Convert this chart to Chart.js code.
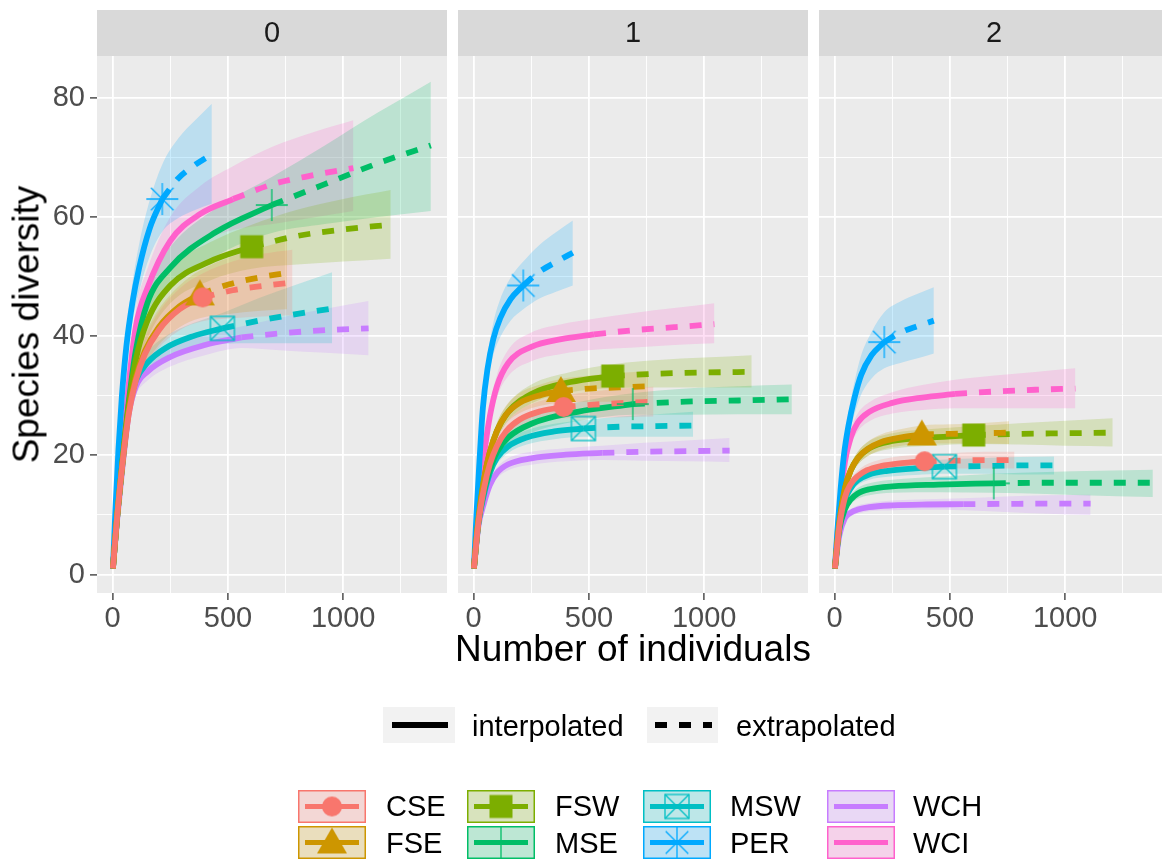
<!DOCTYPE html>
<html>
<head>
<meta charset="utf-8">
<script src="https://cdn.jsdelivr.net/npm/chart.js@4.4.1/dist/chart.umd.min.js"></script>
<style>
  html, body { margin: 0; padding: 0; background: #ffffff; }
  body { width: 1162px; height: 861px; overflow: hidden; position: relative; font-family: "Liberation Sans", Arial, sans-serif; }
  canvas { position: absolute; }
  .txt { position: absolute; white-space: nowrap; color: #000000; }
  .axis-title { font-size: 37px; line-height: 37px; text-align: center; }
  .key-label { font-size: 29px; line-height: 29px; }
</style>
</head>
<body>
<canvas id="panel0" width="447" height="628" style="left:0px;top:10px"></canvas>
<canvas id="panel1" width="350" height="628" style="left:458px;top:10px"></canvas>
<canvas id="panel2" width="350" height="628" style="left:819px;top:10px"></canvas>
<canvas id="legendKeys" width="1162" height="171" style="left:0px;top:690px"></canvas>

<div class="txt axis-title" style="left:-174px;top:305.5px;width:400px;transform:rotate(-90deg);">Species diversity</div>
<div class="txt axis-title" style="left:333px;top:630px;width:600px;">Number of individuals</div>

<div class="txt key-label" style="left:472px;top:711.5px;">interpolated</div>
<div class="txt key-label" style="left:736px;top:711.5px;">extrapolated</div>

<div class="txt key-label" style="left:386px;top:792px;">CSE</div>
<div class="txt key-label" style="left:386px;top:828.5px;">FSE</div>
<div class="txt key-label" style="left:555px;top:792px;">FSW</div>
<div class="txt key-label" style="left:555px;top:828.5px;">MSE</div>
<div class="txt key-label" style="left:730px;top:792px;">MSW</div>
<div class="txt key-label" style="left:730px;top:828.5px;">PER</div>
<div class="txt key-label" style="left:913px;top:792px;">WCH</div>
<div class="txt key-label" style="left:913px;top:828.5px;">WCI</div>

<script>
// ---- data ----
const sites = ['CSE', 'FSE', 'FSW', 'MSE', 'MSW', 'PER', 'WCH', 'WCI'];
const orders = ['0', '1', '2'];
const observedSize = [390, 378, 603, 690, 476, 215, 558, 522];

// sample sizes (m) at which each curve was read, per site
const sampleSizes = [
  [1, 20, 45, 70, 100, 140, 200, 290, 390, 520, 650, 780],
  [1, 20, 45, 70, 100, 140, 200, 290, 378, 505, 630, 756],
  [1, 20, 45, 70, 100, 150, 250, 420, 603, 800, 1000, 1206],
  [1, 20, 45, 70, 100, 150, 250, 450, 690, 920, 1150, 1380],
  [1, 20, 45, 70, 100, 150, 230, 350, 476, 635, 795, 952],
  [1, 12, 25, 40, 60, 85, 115, 160, 215, 285, 360, 430],
  [1, 20, 45, 70, 100, 150, 250, 400, 558, 740, 925, 1110],
  [1, 20, 45, 70, 100, 150, 250, 380, 522, 695, 870, 1044]
];

// order q = 0
const richness = [
  [1, 10, 19.5, 27, 32.5, 37, 41, 44.5, 46.5, 47.7, 48.4, 49],
  [1, 10, 19.5, 27.5, 33, 37.5, 41.5, 45, 47, 48.7, 49.8, 50.6],
  [1, 10, 20, 28.5, 36, 42.5, 48.5, 52.5, 55, 56.8, 57.9, 58.7],
  [1, 10, 20, 29, 37.5, 45.5, 51.5, 57.5, 62, 65.5, 69, 72],
  [1, 10, 19.5, 28, 32.5, 35.5, 38, 40, 41.3, 42.6, 43.7, 44.6],
  [1, 11, 21, 30, 38.5, 45.5, 51.5, 58, 63, 66.5, 68.8, 70.5],
  [1, 9.5, 19, 27, 31.5, 34, 36.5, 38.5, 39.8, 40.5, 41, 41.3],
  [1, 10.5, 21, 32, 41.5, 48, 56, 60.5, 63, 65.5, 67, 68.2]
];
const richnessLow = [
  [1, 9.3, 18, 25, 30, 34.3, 38, 41, 42.5, 43, 43.3, 43.5],
  [1, 9.3, 18, 25.5, 30.5, 34.8, 38.5, 41.5, 43, 43.7, 44.2, 44.5],
  [1, 9.3, 18.5, 26.5, 33.5, 39.5, 45.5, 49.3, 51.3, 52, 52.5, 53],
  [1, 9.3, 18.5, 27, 35, 42.5, 48, 53.5, 57.3, 58.8, 60, 61],
  [1, 9.3, 18.3, 26.5, 30.8, 33.7, 36, 37.8, 38.7, 38.8, 38.8, 38.8],
  [1, 10.3, 19.5, 28, 35.8, 42.2, 47.5, 53.3, 57.5, 59.8, 61.2, 62.2],
  [1, 8.8, 17.8, 25.6, 30, 32.5, 34.9, 36.8, 38, 37.6, 37.2, 36.8],
  [1, 9.8, 19.5, 30, 38.8, 44.8, 52, 55.8, 57.8, 58.8, 59.9, 61]
];
const richnessHigh = [
  [1, 10.7, 21, 29, 35, 39.7, 44, 48, 50.5, 52.5, 53.8, 54.5],
  [1, 10.7, 21, 29.5, 35.5, 40.2, 44.5, 48.5, 51, 53.2, 54.7, 56],
  [1, 10.7, 21.5, 30.5, 38.5, 45.5, 51.5, 55.7, 58.7, 61.2, 63, 64.5],
  [1, 10.7, 21.5, 31, 40, 48.5, 55, 61.5, 66.7, 72, 77.5, 82.7],
  [1, 10.7, 20.7, 29.5, 34.2, 37.3, 40, 42.2, 43.9, 46.4, 48.6, 50.7],
  [1, 11.7, 22.5, 32, 41.2, 48.8, 55.5, 62.7, 68.8, 73.2, 76.3, 79],
  [1, 10.2, 20.2, 28.4, 33, 35.5, 38.1, 40.2, 41.6, 43.2, 44.6, 45.9],
  [1, 11.2, 22.5, 34, 44.2, 51.2, 60, 65.2, 68.5, 71.8, 74.2, 76.2]
];

// order q = 1
const shannon = [
  [1, 8.5, 14.5, 18.5, 21.5, 24, 26, 27.4, 28.1, 28.5, 28.8, 29],
  [1, 9, 16, 20.5, 24, 26.8, 28.8, 30.1, 30.8, 31.2, 31.4, 31.6],
  [1, 9, 16, 20.5, 24, 27.3, 30.3, 32.3, 33.3, 33.7, 33.9, 34],
  [1, 8.5, 14, 17.5, 20.5, 23, 25.3, 27.3, 28.6, 29, 29.2, 29.4],
  [1, 8.5, 13.5, 17, 19.5, 21.5, 23, 24, 24.5, 24.8, 24.9, 25],
  [1, 10, 19, 28, 34.5, 39.5, 43, 46.2, 48.5, 50.8, 52.5, 54],
  [1, 8, 12, 15, 17, 18.5, 19.5, 20.1, 20.4, 20.6, 20.7, 20.8],
  [1, 11, 20, 26.5, 31.5, 35.5, 38.2, 39.5, 40.3, 41, 41.5, 42]
];
const shannonLow = [
  [1, 8, 13.7, 17.4, 20.2, 22.6, 24.4, 25.7, 26.2, 26.3, 26.4, 26.5],
  [1, 8.5, 15.2, 19.4, 22.6, 25.3, 27.1, 28.3, 28.8, 29, 29, 29],
  [1, 8.5, 15.2, 19.4, 22.7, 25.9, 28.7, 30.6, 31.3, 31.4, 31.4, 31.4],
  [1, 8, 13.2, 16.5, 19.3, 21.7, 23.8, 25.7, 26.8, 26.8, 26.9, 26.9],
  [1, 8, 12.8, 16.1, 18.5, 20.4, 21.8, 22.7, 23.1, 23.1, 23.1, 23.1],
  [1, 9.4, 17.8, 26.2, 32.3, 36.8, 39.8, 42.6, 44.5, 46.3, 47.5, 48.5],
  [1, 7.6, 11.4, 14.2, 16.1, 17.5, 18.4, 19, 19.2, 19.1, 19, 18.9],
  [1, 10.4, 18.8, 24.9, 29.6, 33.3, 35.8, 37, 37.7, 38.1, 38.5, 38.8]
];
const shannonHigh = [
  [1, 9, 15.3, 19.6, 22.8, 25.4, 27.6, 29.1, 30, 30.7, 31.2, 31.5],
  [1, 9.5, 16.8, 21.6, 25.4, 28.3, 30.5, 31.9, 32.8, 33.4, 33.8, 34.2],
  [1, 9.5, 16.8, 21.6, 25.3, 28.7, 31.9, 34, 35.3, 36, 36.4, 36.8],
  [1, 9, 14.8, 18.5, 21.7, 24.3, 26.8, 28.9, 30.4, 31.2, 31.6, 31.9],
  [1, 9, 14.2, 17.9, 20.5, 22.6, 24.2, 25.3, 25.9, 26.5, 26.9, 27.3],
  [1, 10.6, 20.2, 29.8, 36.7, 42.2, 46.2, 49.8, 52.5, 55.3, 57.5, 59.4],
  [1, 8.4, 12.6, 15.8, 17.9, 19.5, 20.6, 21.2, 21.6, 22.1, 22.5, 22.9],
  [1, 11.6, 21.2, 28.1, 33.4, 37.7, 40.6, 42, 42.9, 43.9, 44.7, 45.5]
];

// order q = 2
const simpson = [
  [1, 8, 13, 15.2, 16.5, 17.5, 18.2, 18.7, 19, 19.1, 19.2, 19.2],
  [1, 8.5, 14.5, 17.5, 19.5, 21, 22.2, 23, 23.5, 23.6, 23.7, 23.8],
  [1, 8.5, 14.5, 17.5, 19.5, 21.2, 22.4, 23, 23.4, 23.6, 23.7, 23.8],
  [1, 7.5, 11, 12.6, 13.6, 14.3, 14.8, 15.1, 15.3, 15.4, 15.4, 15.4],
  [1, 8, 12.5, 14.5, 15.8, 16.8, 17.4, 17.8, 18.1, 18.2, 18.3, 18.3],
  [1, 7.5, 14, 20, 25, 29.5, 33.5, 36.8, 39, 40.6, 41.7, 42.6],
  [1, 6.5, 9.5, 10.4, 10.9, 11.3, 11.6, 11.75, 11.8, 11.85, 11.9, 11.9],
  [1, 10.5, 19, 23, 25.5, 27.3, 28.8, 29.7, 30.3, 30.7, 31, 31.2]
];
const simpsonLow = [
  [1, 7.5, 12.3, 14.4, 15.6, 16.5, 17.1, 17.5, 17.8, 17.8, 17.8, 17.8],
  [1, 8, 13.7, 16.5, 18.4, 19.8, 20.9, 21.6, 22, 22, 22, 21.9],
  [1, 8, 13.7, 16.5, 18.4, 20, 21.1, 21.6, 21.9, 21.8, 21.6, 21.5],
  [1, 7, 10.3, 11.8, 12.7, 13.3, 13.7, 13.8, 13.7, 13.5, 13.2, 13],
  [1, 7.5, 11.8, 13.7, 15, 15.9, 16.4, 16.7, 16.9, 16.9, 16.8, 16.8],
  [1, 7, 13, 18.5, 22.8, 26.8, 30.2, 32.9, 34.6, 35.5, 36.3, 37.1],
  [1, 6.1, 8.9, 9.8, 10.2, 10.6, 10.8, 10.85, 10.8, 10.5, 10.2, 10],
  [1, 10, 18, 21.7, 24, 25.7, 27, 27.6, 27.9, 27.9, 27.9, 27.9]
];
const simpsonHigh = [
  [1, 8.5, 13.7, 16, 17.4, 18.5, 19.3, 19.9, 20.2, 20.4, 20.6, 20.6],
  [1, 9, 15.3, 18.5, 20.6, 22.2, 23.5, 24.4, 25, 25.2, 25.4, 25.7],
  [1, 9, 15.3, 18.5, 20.6, 22.4, 23.7, 24.4, 24.9, 25.4, 25.8, 26.2],
  [1, 8, 11.7, 13.4, 14.5, 15.3, 15.9, 16.4, 16.9, 17.2, 17.4, 17.6],
  [1, 8.5, 13.2, 15.3, 16.6, 17.7, 18.4, 18.9, 19.3, 19.5, 19.7, 19.8],
  [1, 8, 15, 21.5, 27.2, 32.2, 36.8, 40.7, 44, 45.8, 47.1, 48.2],
  [1, 6.9, 10.1, 11, 11.6, 12, 12.4, 12.65, 12.8, 13.1, 13.3, 13.4],
  [1, 11, 20, 24.3, 27, 28.9, 30.6, 31.8, 32.7, 33.4, 34, 34.6]
];

// axes: gridline positions and which of them carry labels
const xGrid = [0, 250, 500, 750, 1000, 1250];
const xTickLabels = [0, 500, 1000];
const yGrid = [0, 10, 20, 30, 40, 50, 60, 70, 80];
const yTickLabels = [0, 20, 40, 60, 80];

// ---- styling ----
const siteColors = ['#F8766D', '#CD9600', '#7CAE00', '#00BE67', '#00BFC4', '#00A9FF', '#C77CFF', '#FF61CC'];
const siteShapes = ['circle', 'triangle', 'square', 'plus', 'boxX', 'asterisk', null, null];
const FONT = '"Liberation Sans", Arial, sans-serif';

Chart.defaults.font.family = FONT;

function alpha(hex, a) {
  const n = parseInt(hex.slice(1), 16);
  return `rgba(${(n >> 16) & 255}, ${(n >> 8) & 255}, ${n & 255}, ${a})`;
}

function makeMarker(shape, color) {
  const c = document.createElement('canvas');
  c.width = 40;
  c.height = 40;
  const g = c.getContext('2d');
  const m = 20;
  g.fillStyle = color;
  g.strokeStyle = color;
  g.lineWidth = 1.3;
  if (shape === 'circle') {
    g.beginPath();
    g.arc(m, m, 10, 0, Math.PI * 2);
    g.fill();
  } else if (shape === 'triangle') {
    g.beginPath();
    g.moveTo(m, m - 15);
    g.lineTo(m + 15, m + 11);
    g.lineTo(m - 15, m + 11);
    g.closePath();
    g.fill();
  } else if (shape === 'square') {
    g.fillRect(m - 11.5, m - 11.5, 23, 23);
  } else if (shape === 'plus') {
    g.beginPath();
    g.moveTo(m - 16, m); g.lineTo(m + 16, m);
    g.moveTo(m, m - 16); g.lineTo(m, m + 16);
    g.stroke();
  } else if (shape === 'boxX') {
    g.strokeRect(m - 12, m - 12, 24, 24);
    g.beginPath();
    g.moveTo(m - 12, m - 12); g.lineTo(m + 12, m + 12);
    g.moveTo(m + 12, m - 12); g.lineTo(m - 12, m + 12);
    g.stroke();
  } else if (shape === 'asterisk') {
    g.beginPath();
    g.moveTo(m - 16, m); g.lineTo(m + 16, m);
    g.moveTo(m, m - 16); g.lineTo(m, m + 16);
    g.moveTo(m - 11.3, m - 11.3); g.lineTo(m + 11.3, m + 11.3);
    g.moveTo(m + 11.3, m - 11.3); g.lineTo(m - 11.3, m + 11.3);
    g.stroke();
  }
  return c;
}

const markers = siteShapes.map((s, i) => s ? makeMarker(s, siteColors[i]) : null);

// grey panel + facet strip
const facetPanel = {
  id: 'facetPanel',
  beforeDraw(chart, args, opts) {
    const { ctx, chartArea: a } = chart;
    ctx.save();
    ctx.fillStyle = '#EBEBEB';
    ctx.fillRect(a.left, a.top, a.right - a.left, a.bottom - a.top);
    ctx.fillStyle = '#D9D9D9';
    ctx.fillRect(a.left, 0, a.right - a.left, a.top);
    ctx.fillStyle = '#1A1A1A';
    ctx.font = '29px ' + FONT;
    ctx.textAlign = 'center';
    ctx.textBaseline = 'middle';
    ctx.fillText(opts.label, (a.left + a.right) / 2, a.top / 2 + 1);
    ctx.restore();
  }
};

function buildDatasets(est, low, high) {
  const datasets = [];
  sites.forEach((site, i) => {
    const xs = sampleSizes[i];
    const k = xs.indexOf(observedSize[i]);
    const color = siteColors[i];
    const pts = arr => xs.map((x, j) => ({ x: x, y: arr[i][j] }));
    const common = { pointRadius: 0, cubicInterpolationMode: 'monotone' };

    datasets.push({ ...common, label: site + ' lower', data: pts(low), borderWidth: 0, borderColor: 'rgba(0,0,0,0)', fill: false, order: 3 });
    datasets.push({ ...common, label: site + ' upper', data: pts(high), borderWidth: 0, borderColor: 'rgba(0,0,0,0)',
      fill: '-1', backgroundColor: alpha(color, 0.2), order: 3 });

    const line = pts(est);
    datasets.push({ ...common, label: site + ' interpolated', data: line.slice(0, k + 1), borderColor: color, borderWidth: 5.8, fill: false, order: 1 });
    datasets.push({ ...common, label: site + ' extrapolated', data: line.slice(k), borderColor: color, borderWidth: 5.8,
      borderDash: [12, 12], fill: false, order: 1 });

    if (markers[i]) {
      datasets.push({ label: site + ' observed', data: [line[k]], showLine: false, pointStyle: markers[i],
        pointRadius: 12, borderColor: color, backgroundColor: color, order: 0 });
    }
  });
  return datasets;
}

function makePanel(canvasId, label, est, low, high, first) {
  const majorX = v => xTickLabels.includes(v);
  const majorY = v => yTickLabels.includes(v);
  return new Chart(document.getElementById(canvasId), {
    type: 'line',
    data: { datasets: buildDatasets(est, low, high) },
    options: {
      responsive: false,
      animation: false,
      devicePixelRatio: 1,
      layout: { padding: { top: 46, left: 0, right: 0, bottom: 0 }, autoPadding: false },
      plugins: {
        legend: { display: false },
        tooltip: { enabled: false },
        facetPanel: { label: label }
      },
      scales: {
        x: {
          type: 'linear',
          min: -68,
          max: 1450,
          border: { display: false },
          afterBuildTicks: s => { s.ticks = xGrid.map(v => ({ value: v })); },
          ticks: {
            autoSkip: false,
            maxRotation: 0,
            padding: 2,
            color: '#4D4D4D',
            font: { size: 29 },
            callback: v => majorX(v) ? String(v) : ''
          },
          grid: {
            color: '#FFFFFF',
            lineWidth: c => (c.tick && majorX(c.tick.value)) ? 1.8 : 0.9,
            tickColor: c => (c.tick && majorX(c.tick.value)) ? '#333333' : 'rgba(0,0,0,0)',
            tickLength: 7,
            tickWidth: 1.3
          },
          afterFit: s => { s.height = 45; }
        },
        y: {
          min: -3.1,
          max: 87,
          border: { display: false },
          afterBuildTicks: s => { s.ticks = yGrid.map(v => ({ value: v })); },
          ticks: {
            display: first,
            padding: 5,
            color: '#4D4D4D',
            font: { size: 29 },
            callback: v => majorY(v) ? String(v) : ''
          },
          grid: {
            color: '#FFFFFF',
            lineWidth: c => (c.tick && majorY(c.tick.value)) ? 1.8 : 0.9,
            drawTicks: first,
            tickColor: c => (c.tick && majorY(c.tick.value)) ? '#333333' : 'rgba(0,0,0,0)',
            tickLength: first ? 7 : 0,
            tickWidth: 1.3
          },
          afterFit: s => { s.width = first ? 97 : 0; }
        }
      }
    },
    plugins: [facetPanel]
  });
}

makePanel('panel0', orders[0], richness, richnessLow, richnessHigh, true);
makePanel('panel1', orders[1], shannon, shannonLow, shannonHigh, false);
makePanel('panel2', orders[2], simpson, simpsonLow, simpsonHigh, false);

// ---- legends ----
function drawLegend() {
  const g = document.getElementById('legendKeys').getContext('2d');

  // linetype keys
  g.fillStyle = '#F2F2F2';
  g.fillRect(383, 17, 72, 36);
  g.fillRect(647, 17, 71, 36);
  g.strokeStyle = '#000000';
  g.lineWidth = 6;
  g.beginPath(); g.moveTo(392, 35); g.lineTo(448, 35); g.stroke();
  g.setLineDash([12, 12]);
  g.beginPath(); g.moveTo(655, 35); g.lineTo(712, 35); g.stroke();
  g.setLineDash([]);

  // site keys, filled column by column
  const colX = [298, 467, 643, 827];
  const rowY = [100, 136];
  const w = 68, h = 33;
  sites.forEach((site, i) => {
    const x = colX[Math.floor(i / 2)];
    const y = rowY[i % 2];
    const color = siteColors[i];
    g.fillStyle = '#F2F2F2';
    g.fillRect(x, y, w, h);
    g.fillStyle = alpha(color, 0.22);
    g.fillRect(x, y, w, h);
    g.strokeStyle = color;
    g.lineWidth = 1.5;
    g.strokeRect(x + 0.75, y + 0.75, w - 1.5, h - 1.5);
    g.lineWidth = 5;
    g.beginPath(); g.moveTo(x + 7, y + h / 2); g.lineTo(x + w - 7, y + h / 2); g.stroke();
    if (markers[i]) g.drawImage(markers[i], x + w / 2 - 20, y + h / 2 - 20);
  });
}
drawLegend();
</script>
</body>
</html>
